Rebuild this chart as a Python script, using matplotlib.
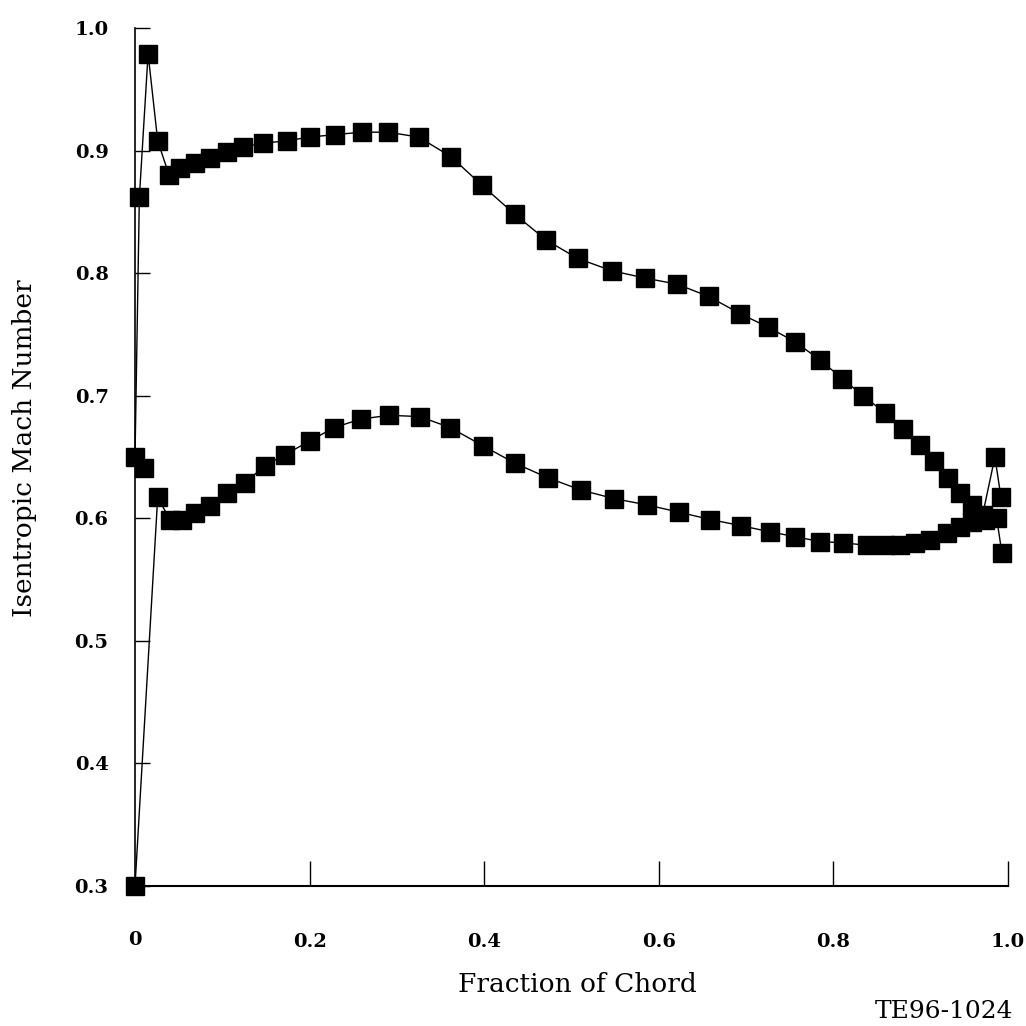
import numpy as np
import matplotlib
matplotlib.use("Agg")
import matplotlib.pyplot as plt

# ---------------- data ----------------
# suction side (upper branch), leading edge -> trailing edge
upper_x = [0.010, 0.000, 0.005, 0.015, 0.026, 0.039, 0.052, 0.069, 0.086, 0.105,
           0.124, 0.147, 0.174, 0.200, 0.229, 0.260, 0.290, 0.325, 0.362, 0.397,
           0.435, 0.471, 0.507, 0.546, 0.584, 0.621, 0.657, 0.693, 0.725, 0.756,
           0.785, 0.810, 0.834, 0.859, 0.880, 0.899, 0.915, 0.931, 0.945, 0.959,
           0.971, 0.985, 0.992]
upper_y = [0.641, 0.650, 0.862, 0.979, 0.908, 0.880, 0.886, 0.890, 0.894, 0.899,
           0.903, 0.906, 0.908, 0.911, 0.913, 0.915, 0.915, 0.911, 0.895, 0.872,
           0.848, 0.827, 0.812, 0.802, 0.796, 0.791, 0.781, 0.767, 0.756, 0.744,
           0.729, 0.714, 0.700, 0.686, 0.673, 0.660, 0.647, 0.633, 0.621, 0.611,
           0.603, 0.650, 0.617]

# pressure side (lower branch), leading edge -> trailing edge
lower_x = [0.000, 0.026, 0.040, 0.054, 0.069, 0.086, 0.105, 0.126, 0.149, 0.172,
           0.200, 0.228, 0.259, 0.291, 0.326, 0.361, 0.399, 0.435, 0.473, 0.511,
           0.549, 0.586, 0.623, 0.659, 0.694, 0.727, 0.756, 0.785, 0.811, 0.838,
           0.859, 0.876, 0.893, 0.911, 0.930, 0.945, 0.959, 0.974, 0.987, 0.993]
lower_y = [0.300, 0.617, 0.599, 0.599, 0.604, 0.610, 0.621, 0.629, 0.643, 0.652,
           0.663, 0.674, 0.681, 0.684, 0.683, 0.674, 0.659, 0.645, 0.633, 0.623,
           0.616, 0.611, 0.605, 0.599, 0.594, 0.589, 0.585, 0.581, 0.580, 0.578,
           0.578, 0.578, 0.580, 0.582, 0.588, 0.593, 0.597, 0.599, 0.600, 0.572]

x_ticks = [0.2, 0.4, 0.6, 0.8, 1.0]
x_ticklabels = ["0.2", "0.4", "0.6", "0.8", "1.0"]
y_ticks = [0.3, 0.4, 0.5, 0.6, 0.7, 0.8, 0.9, 1.0]
y_ticklabels = ["0.3", "0.4", "0.5", "0.6", "0.7", "0.8", "0.9", "1.0"]

# ---------------- plot ----------------
plt.rcParams['font.family'] = ['DejaVu Serif']
fig = plt.figure(figsize=(10.26, 10.26), dpi=100)
ax = fig.add_axes([135/1026, 140/1026, 873/1026, 858/1026])

for xs, ys in [(upper_x, upper_y), (lower_x, lower_y)]:
    ax.plot(xs, ys, color='black', lw=1.0, marker='s', ms=13,
            mfc='black', mec='black', clip_on=False, zorder=3)

ax.set_xlim(0, 1.0)
ax.set_ylim(0.3, 1.0)
ax.spines['top'].set_visible(False)
ax.spines['right'].set_visible(False)
ax.spines['left'].set_linewidth(1.2)
ax.spines['bottom'].set_linewidth(1.5)

ax.set_xticks(x_ticks)
ax.set_xticklabels(x_ticklabels, fontweight='bold')
ax.set_yticks(y_ticks)
ax.set_yticklabels(y_ticklabels, fontweight='bold')
ax.tick_params(axis='x', direction='in', length=18, width=1.0, pad=34, labelsize=14)
ax.tick_params(axis='y', direction='in', length=11, width=1.0, pad=19, labelsize=14)

# "0" label at the origin of the chord axis
ax.text(0, -54/858, "0", transform=ax.get_xaxis_transform(), ha='center', va='center',
        fontsize=14, fontweight='bold')

# axis titles
fig.text(577/1026, 1 - 985/1026, "Fraction of Chord", ha='center', va='center', fontsize=19)
fig.text(25/1026, 1 - 448/1026, "Isentropic Mach Number", ha='center', va='center',
         rotation=90, fontsize=19)
fig.text(1013/1026, 1 - 1012/1026, "TE96-1024", ha='right', va='center', fontsize=18)

plt.savefig('out.png', dpi=100)
